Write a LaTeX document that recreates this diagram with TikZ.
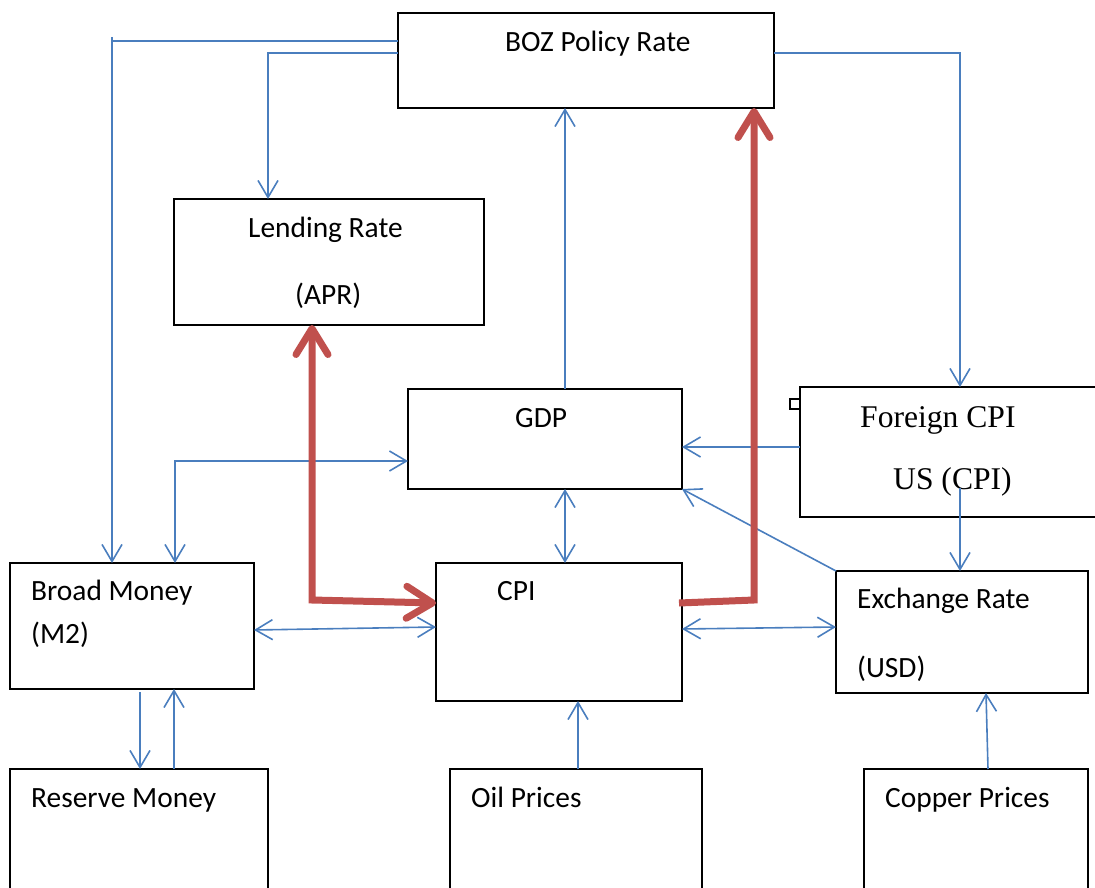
\documentclass[tikz,border=0pt]{standalone}
\usepackage{fontspec}
\setmainfont{Carlito}
\newfontfamily\timesf{Liberation Serif}
\usetikzlibrary{arrows.meta,calc}
\definecolor{lblue}{RGB}{74,126,190}
\definecolor{lred}{RGB}{192,80,77}
\tikzset{
  box/.style={draw=black, line width=1.3pt, inner sep=0pt, outer sep=0pt},
  conn/.style={draw=lblue, line width=1.6pt},
  redpath/.style={draw=lred, line width=7pt, line join=miter},
  lbl/.style={anchor=base west, inner sep=0pt, font=\fontsize{29.4}{34}\selectfont},
  tlbl/.style={anchor=base west, inner sep=0pt, font=\timesf\fontsize{31.6}{36}\selectfont},
  >={Straight Barb[length=17pt,width=20pt]},
  rtip/.tip={Straight Barb[length=26pt,width=32pt,line cap=round,line join=round]}
}
\begin{document}
\begin{tikzpicture}[x=1pt,y=-1pt]
\useasboundingbox (0,0) rectangle (1095,888);
\clip (0,0) rectangle (1095,888);
% boxes
\node[box, minimum width=376pt, minimum height=95pt] (boz) at (586,60.5) {};
\node[box, minimum width=310pt, minimum height=126pt] (lend) at (329,262) {};
\node[box, minimum width=274pt, minimum height=100pt] (gdp) at (545,439) {};
\node[box, minimum width=300pt, minimum height=130pt] (fcpi) at (950,452) {};
\node[box, minimum width=244pt, minimum height=126pt] (bm) at (132,626) {};
\node[box, minimum width=246pt, minimum height=138pt] (cpi) at (559,632) {};
\node[box, minimum width=252pt, minimum height=122pt] (exr) at (962,632) {};
\node[box, minimum width=258pt, minimum height=131pt] (rm) at (139,834.5) {};
\node[box, minimum width=252pt, minimum height=131pt] (oil) at (576,834.5) {};
\node[box, minimum width=224pt, minimum height=131pt] (cop) at (976,834.5) {};
\node[draw=black, line width=1.1pt, minimum size=10pt, inner sep=0pt] (sq) at (795,404) {};
% labels
\node[lbl] (tboz) at (505,52) {BOZ Policy Rate};
\node[lbl] (tlend1) at (248,237) {Lending Rate};
\node[lbl] (tlend2) at (295,304) {(APR)};
\node[lbl] (tgdp) at (515,427) {GDP};
\node[tlbl] (tf1) at (860,427) {Foreign CPI};
\node[tlbl] (tf2) at (893,489) {US (CPI)};
\node[lbl] (tbm1) at (31,600) {Broad Money};
\node[lbl] (tbm2) at (31,643) {(M2)};
\node[lbl] (tcpi) at (497,600) {CPI};
\node[lbl] (tex1) at (857,608) {Exchange Rate};
\node[lbl] (tex2) at (857,677) {(USD)};
\node[lbl] (trm) at (31,807) {Reserve Money};
\node[lbl] (toil) at (471,807) {Oil Prices};
\node[lbl] (tcop) at (885,807) {Copper Prices};
% coordinates
\coordinate (t1) at (112,37);
\coordinate (r1) at (754,600);
\coordinate (r2) at (312,600);
\coordinate (f1) at (960,488);
% blue connectors
\draw[conn] ($(boz.north west)+(0,28)$) -- (t1 |- {$(boz.north west)+(0,28)$});
\draw[conn,->] (t1) -- (t1 |- bm.north);
\draw[conn,->] ($(boz.north west)+(0,40)$) -| ($(lend.north west)+(94,0)$);
\draw[conn,->] ($(boz.north east)+(0,40)$) -| ($(fcpi.north west)+(160,0)$);
\draw[conn,->] ($(gdp.north west)+(157,0)$) -- ($(boz.south west)+(167,0)$);
\draw[conn,<->] ($(bm.north west)+(165,0)$) |- ($(gdp.north west)+(0,72)$);
\draw[conn,->] ($(fcpi.north west)+(0,60)$) -- ($(gdp.north east)+(0,58)$);
\draw[conn,->] (exr.north west) -- (gdp.south east);
\draw[conn,->] (f1) -- (f1 |- exr.north);
\draw[conn,<->] ($(gdp.south west)+(157,0)$) -- ($(cpi.north west)+(129,0)$);
\draw[conn,<->] ($(bm.north east)+(0,67)$) -- ($(cpi.north west)+(0,64)$);
\draw[conn,<->] ($(cpi.north east)+(0,66)$) -- ($(exr.north west)+(0,56)$);
\draw[conn,->] ($(bm.south west)+(130,3)$) -- ($(rm.north west)+(130,0)$);
\draw[conn,->] ($(rm.north west)+(164,0)$) -- ($(bm.south west)+(164,0)$);
\draw[conn,->] ($(oil.north west)+(128,0)$) -- ($(cpi.south west)+(142,0)$);
\draw[conn,->] ($(cop.north west)+(124,0)$) -- ($(exr.south west)+(150,0)$);
% red paths
\draw[redpath,-rtip] ($(cpi.north east)+(-3,40)$) -- (r1) -- (r1 |- boz.south);
\draw[redpath,rtip-rtip] ($(lend.south west)+(138,0)$) -- (r2) -- ($(cpi.north west)+(0,40)$);
\end{tikzpicture}
\end{document}
